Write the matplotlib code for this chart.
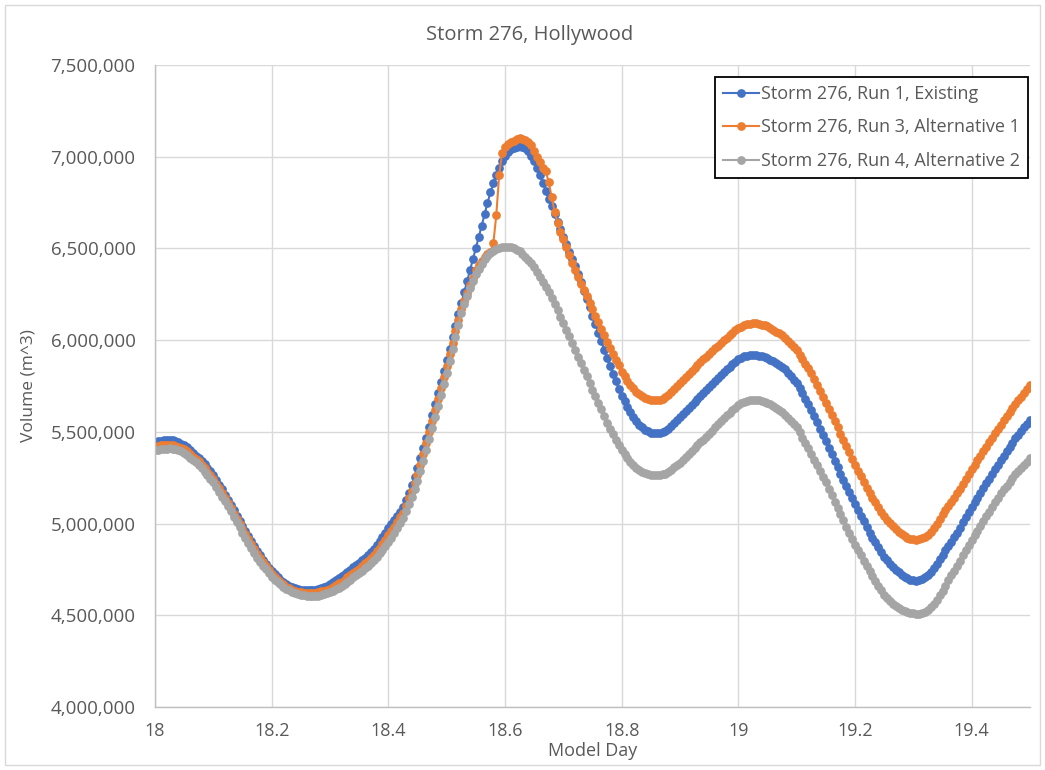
import matplotlib
matplotlib.use("Agg")
import matplotlib.pyplot as plt
import numpy as np
from matplotlib.ticker import FuncFormatter, MultipleLocator
from matplotlib.patches import Rectangle

# Volume in thousands of m^3, model output every 0.005 day starting at day 18
run1_existing = [
    5445, 5449, 5452, 5454, 5455, 5455, 5454, 5450, 5444, 5436,
    5428, 5416, 5402, 5387, 5371, 5360, 5342, 5323, 5304, 5285,
    5265, 5239, 5213, 5186, 5158, 5130, 5101, 5072, 5043, 5014,
    4985, 4958, 4930, 4903, 4876, 4850, 4826, 4802, 4780, 4759,
    4740, 4723, 4707, 4693, 4681, 4670, 4662, 4655, 4649, 4644,
    4640, 4638, 4637, 4637, 4638, 4640, 4644, 4649, 4655, 4662,
    4670, 4680, 4691, 4702, 4714, 4725, 4737, 4749, 4761, 4773,
    4785, 4799, 4813, 4829, 4844, 4860, 4881, 4903, 4926, 4950,
    4975, 4997, 5019, 5042, 5065, 5090, 5128, 5168, 5210, 5256,
    5305, 5358, 5412, 5468, 5524, 5590, 5651, 5712, 5772, 5832,
    5890, 5953, 6015, 6078, 6140, 6200, 6260, 6320, 6380, 6440,
    6500, 6562, 6624, 6686, 6748, 6805, 6855, 6900, 6940, 6975,
    7005, 7025, 7040, 7050, 7055, 7058, 7055, 7046, 7030, 7005,
    6975, 6940, 6900, 6858, 6815, 6772, 6730, 6688, 6646, 6604,
    6562, 6522, 6482, 6442, 6402, 6362, 6316, 6270, 6224, 6178,
    6132, 6086, 6040, 5994, 5948, 5902, 5860, 5818, 5776, 5736,
    5698, 5666, 5636, 5608, 5582, 5558, 5540, 5525, 5512, 5502,
    5496, 5493, 5492, 5494, 5498, 5505, 5517, 5532, 5548, 5564,
    5580, 5597, 5614, 5631, 5648, 5665, 5681, 5697, 5713, 5729,
    5745, 5761, 5777, 5793, 5809, 5825, 5840, 5854, 5868, 5882,
    5895, 5904, 5911, 5915, 5917, 5918, 5918, 5915, 5911, 5906,
    5900, 5893, 5884, 5875, 5865, 5855, 5840, 5822, 5802, 5784,
    5765, 5738, 5710, 5681, 5651, 5620, 5587, 5553, 5518, 5484,
    5450, 5414, 5378, 5342, 5306, 5270, 5237, 5204, 5171, 5138,
    5105, 5074, 5043, 5012, 4981, 4950, 4924, 4898, 4872, 4846,
    4820, 4800, 4781, 4764, 4749, 4735, 4722, 4711, 4702, 4695,
    4690, 4688, 4690, 4696, 4706, 4720, 4738, 4758, 4780, 4805,
    4830, 4854, 4878, 4902, 4926, 4950, 4978, 5006, 5034, 5062,
    5090, 5116, 5142, 5168, 5194, 5220, 5245, 5270, 5295, 5320,
    5345, 5369, 5393, 5417, 5441, 5465, 5485, 5505, 5525, 5545,
    5565,
]

run3_alt1 = [
    5420, 5424, 5427, 5429, 5430, 5430, 5429, 5425, 5419, 5412,
    5405, 5393, 5379, 5365, 5352, 5340, 5321, 5302, 5283, 5264,
    5245, 5218, 5192, 5165, 5139, 5112, 5083, 5054, 5025, 4997,
    4968, 4941, 4914, 4886, 4859, 4832, 4810, 4788, 4766, 4745,
    4725, 4710, 4695, 4681, 4668, 4655, 4647, 4640, 4634, 4629,
    4625, 4623, 4622, 4621, 4621, 4622, 4625, 4630, 4635, 4640,
    4645, 4654, 4664, 4674, 4684, 4695, 4707, 4719, 4731, 4743,
    4755, 4769, 4783, 4798, 4813, 4828, 4848, 4869, 4890, 4912,
    4935, 4959, 4983, 5008, 5034, 5060, 5098, 5138, 5180, 5222,
    5265, 5322, 5380, 5440, 5500, 5560, 5620, 5680, 5740, 5800,
    5860, 5924, 5986, 6048, 6110, 6170, 6215, 6258, 6300, 6340,
    6380, 6408, 6432, 6452, 6468, 6480, 6528, 6680, 6900, 7020,
    7055, 7070, 7080, 7088, 7095, 7100, 7098, 7092, 7080, 7062,
    7030, 7000, 6970, 6940, 6920, 6860, 6780, 6700, 6640, 6590,
    6550, 6507, 6465, 6423, 6382, 6342, 6307, 6272, 6238, 6204,
    6170, 6134, 6098, 6062, 6026, 5990, 5958, 5926, 5894, 5862,
    5828, 5802, 5778, 5756, 5737, 5720, 5705, 5693, 5684, 5678,
    5675, 5673, 5673, 5676, 5681, 5688, 5703, 5719, 5735, 5750,
    5765, 5782, 5799, 5816, 5833, 5850, 5865, 5880, 5895, 5910,
    5925, 5940, 5955, 5970, 5985, 6000, 6014, 6027, 6040, 6053,
    6065, 6074, 6081, 6087, 6090, 6092, 6092, 6089, 6084, 6080,
    6075, 6067, 6057, 6046, 6038, 6030, 6014, 5997, 5980, 5962,
    5945, 5921, 5896, 5871, 5846, 5820, 5788, 5756, 5724, 5692,
    5660, 5626, 5592, 5558, 5524, 5490, 5456, 5422, 5388, 5354,
    5320, 5289, 5258, 5227, 5196, 5165, 5140, 5115, 5090, 5065,
    5040, 5021, 5003, 4986, 4970, 4955, 4943, 4932, 4924, 4918,
    4915, 4913, 4915, 4920, 4927, 4938, 4955, 4975, 4998, 5024,
    5050, 5073, 5096, 5119, 5142, 5165, 5191, 5217, 5243, 5269,
    5295, 5320, 5345, 5370, 5395, 5420, 5444, 5468, 5492, 5516,
    5540, 5562, 5584, 5606, 5628, 5650, 5671, 5692, 5713, 5734,
    5755,
]

run4_alt2 = [
    5400, 5403, 5406, 5408, 5409, 5410, 5409, 5405, 5400, 5393,
    5385, 5373, 5360, 5346, 5333, 5320, 5302, 5283, 5264, 5245,
    5225, 5199, 5173, 5147, 5121, 5095, 5066, 5037, 5008, 4979,
    4950, 4923, 4896, 4869, 4842, 4815, 4793, 4771, 4750, 4730,
    4710, 4695, 4681, 4668, 4656, 4645, 4636, 4628, 4622, 4616,
    4612, 4609, 4607, 4606, 4605, 4605, 4607, 4611, 4615, 4620,
    4625, 4633, 4642, 4651, 4660, 4670, 4682, 4694, 4706, 4718,
    4730, 4743, 4757, 4771, 4785, 4800, 4818, 4837, 4857, 4878,
    4900, 4924, 4949, 4975, 5002, 5030, 5066, 5104, 5144, 5186,
    5230, 5285, 5342, 5400, 5460, 5520, 5580, 5640, 5700, 5760,
    5820, 5886, 5952, 6018, 6084, 6150, 6196, 6240, 6282, 6322,
    6360, 6390, 6417, 6441, 6460, 6475, 6487, 6497, 6504, 6508,
    6510, 6510, 6506, 6500, 6493, 6485, 6471, 6455, 6437, 6419,
    6400, 6374, 6346, 6318, 6289, 6260, 6228, 6195, 6162, 6128,
    6095, 6058, 6021, 5984, 5947, 5910, 5874, 5838, 5802, 5766,
    5730, 5694, 5658, 5622, 5586, 5550, 5518, 5486, 5456, 5427,
    5400, 5377, 5355, 5336, 5320, 5305, 5292, 5281, 5273, 5268,
    5265, 5264, 5264, 5266, 5268, 5272, 5282, 5294, 5308, 5319,
    5330, 5346, 5362, 5378, 5394, 5410, 5426, 5442, 5458, 5474,
    5490, 5507, 5524, 5541, 5558, 5575, 5590, 5604, 5618, 5632,
    5645, 5656, 5664, 5670, 5673, 5675, 5675, 5672, 5668, 5664,
    5660, 5652, 5641, 5630, 5620, 5610, 5594, 5577, 5559, 5542,
    5525, 5497, 5468, 5439, 5410, 5380, 5349, 5318, 5287, 5256,
    5225, 5190, 5155, 5120, 5085, 5050, 5017, 4984, 4951, 4918,
    4885, 4856, 4827, 4798, 4769, 4740, 4714, 4688, 4662, 4636,
    4610, 4592, 4576, 4562, 4550, 4540, 4531, 4523, 4517, 4513,
    4510, 4508, 4509, 4513, 4519, 4528, 4543, 4562, 4584, 4608,
    4634, 4662, 4690, 4718, 4744, 4770, 4798, 4826, 4854, 4882,
    4910, 4936, 4962, 4988, 5014, 5040, 5065, 5090, 5115, 5140,
    5165, 5186, 5207, 5228, 5249, 5270, 5287, 5304, 5321, 5338,
    5355,
]

series_labels = [
    "Storm 276, Run 1, Existing",
    "Storm 276, Run 3, Alternative 1",
    "Storm 276, Run 4, Alternative 2",
]
colors = ["#4472C4", "#ED7D31", "#A5A5A5"]

day_start = 18.0
time_step = 0.005
day = day_start + time_step * np.arange(len(run1_existing))

text_color = "#595959"
grid_color = "#D9D9D9"
font = ["Open Sans", "DejaVu Sans"]

fig = plt.figure(figsize=(10.45, 7.7), dpi=100)
ax = fig.add_axes([155 / 1045, 1 - 707 / 770, 875 / 1045, 642 / 770])

# light border around the whole chart area, like Excel
fig.patches.append(Rectangle((5 / 1045, 5 / 770), 1035 / 1045, 760 / 770,
                             transform=fig.transFigure, fill=False,
                             edgecolor="#D9D9D9", linewidth=1.0))

for values, label, color in zip([run1_existing, run3_alt1, run4_alt2], series_labels, colors):
    ax.plot(day, np.array(values) * 1000, color=color, linewidth=1.5,
            marker="o", markersize=6.3, markeredgewidth=0, label=label)

ax.set_xlim(18, 19.5)
ax.set_ylim(4000000, 7500000)
ax.xaxis.set_major_locator(MultipleLocator(0.2))
ax.yaxis.set_major_locator(MultipleLocator(500000))
ax.xaxis.set_major_formatter(FuncFormatter(lambda v, p: f"{round(v, 1):g}"))
ax.yaxis.set_major_formatter(FuncFormatter(lambda v, p: f"{v:,.0f}"))

ax.grid(True, color=grid_color, linewidth=1.0)
ax.set_axisbelow(True)
for side in ["top", "right"]:
    ax.spines[side].set_visible(False)
for side in ["left", "bottom"]:
    ax.spines[side].set_color("#BFBFBF")
    ax.spines[side].set_linewidth(1.0)

ax.tick_params(axis="both", length=0, colors=text_color)
ax.tick_params(axis="y", pad=14, labelsize=13.5)
ax.tick_params(axis="x", pad=11, labelsize=13)
for lbl in ax.get_yticklabels() + ax.get_xticklabels():
    lbl.set_family(font)

ax.set_xlabel("Model Day", fontsize=13, color=text_color, labelpad=1, family=font)
ax.set_ylabel("Volume (m^3)", fontsize=12.5, color=text_color, labelpad=10, family=font)
fig.text(0.507, 1 - 35 / 770, "Storm 276, Hollywood", ha="center", va="center",
         fontsize=14.5, color=text_color, family=font)

leg = ax.legend(loc="upper right", bbox_to_anchor=(1 - 2 / 875, 1 - 12 / 642),
                borderaxespad=0, fancybox=False, framealpha=1,
                handlelength=2.0, handletextpad=0.1, labelspacing=0.85,
                borderpad=0.45, prop={"family": font, "size": 13})
leg.get_frame().set_edgecolor("black")
leg.get_frame().set_linewidth(1.3)
for t in leg.get_texts():
    t.set_color(text_color)

fig.savefig("out.png", dpi=100)
